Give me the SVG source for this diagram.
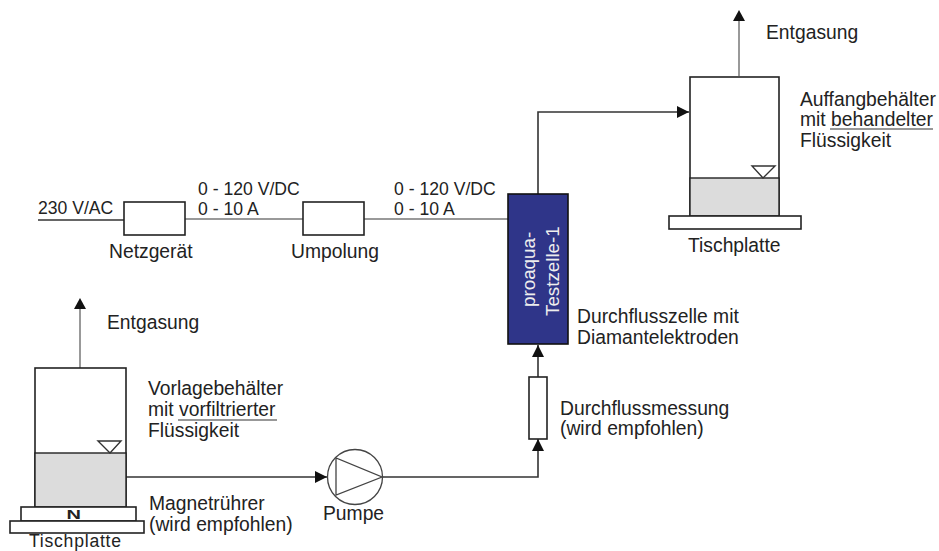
<svg xmlns="http://www.w3.org/2000/svg" width="939" height="551" viewBox="0 0 939 551">
<style>
text{font-family:"Liberation Sans",Arial,sans-serif;font-size:19.3px;fill:#222}
text.v{font-size:17.6px}
text.r{font-size:18.8px;fill:#eee}
.b{fill:#fff;stroke:#222;stroke-width:1.6}
.l{fill:#dcdcdc;stroke:#222;stroke-width:1.4}
.w{fill:none;stroke:#333;stroke-width:1.6}
.g{fill:none;stroke:#999;stroke-width:2}
.h{fill:#fff;stroke:#333;stroke-width:1.4}
.u{stroke:#333;stroke-width:1.2}
</style>
<defs>
<marker id="a" markerUnits="userSpaceOnUse" markerWidth="14" markerHeight="14" refX="12" refY="6" orient="auto"><path d="M0 0L12 6L0 12z" fill="#111"/></marker>
</defs>
<rect width="939" height="551" fill="#fff"/>
<g id="connectors">
<path class="g" d="M739 76V14"/>
<path d="M733 21L739 10L745 21z" fill="#111"/>
<path class="g" d="M80 368V302"/>
<path d="M74 309L80 298L86 309z" fill="#111"/>
<path class="w" d="M538 194V112H689" marker-end="url(#a)"/>
<path class="w" d="M38 220H124"/>
<path class="g" d="M185 219H303"/>
<path class="g" d="M364 219H508"/>
<path class="w" d="M126 477H327" marker-end="url(#a)"/>
<path class="w" d="M383 477H538V439" marker-end="url(#a)"/>
<path class="w" d="M538 377V345" marker-end="url(#a)"/>
</g>
<g id="auffangbehaelter">
<rect class="b" x="690" y="77" width="89" height="139"/>
<rect class="l" x="690" y="178" width="89" height="38"/>
<path class="h" d="M752 166H775L763 178z"/>
<rect class="b" x="669" y="216" width="132" height="13"/>
<text x="800" y="106">Auffangbehälter</text>
<text x="800" y="126">mit behandelter</text>
<path class="u" d="M830 129H933"/>
<text x="800" y="147">Flüssigkeit</text>
<text x="688" y="252">Tischplatte</text>
<text x="766" y="39">Entgasung</text>
</g>
<g id="netzgeraet">
<rect class="b" x="124" y="202" width="61" height="33"/>
<text x="109" y="258">Netzgerät</text>
<text class="v" x="38" y="214">230 V/AC</text>
<text class="v" x="198" y="194.5">0 - 120 V/DC</text>
<text class="v" x="198" y="214.5">0 - 10 A</text>
</g>
<g id="umpolung">
<rect class="b" x="303" y="202" width="61" height="33"/>
<text x="291" y="258">Umpolung</text>
<text class="v" x="394" y="194.5">0 - 120 V/DC</text>
<text class="v" x="394" y="214.5">0 - 10 A</text>
</g>
<g id="testzelle">
<rect x="508" y="194" width="60" height="150" fill="#2f3589" stroke="#111" stroke-width="1.6"/>
<text class="r" transform="translate(535 307) rotate(-90)">proaqua-</text>
<text class="r" transform="translate(559 316) rotate(-90)">Testzelle-1</text>
<text x="577" y="323">Durchflusszelle mit</text>
<text x="577" y="344">Diamantelektroden</text>
</g>
<g id="durchflussmessung">
<rect class="b" x="529" y="377" width="18" height="62"/>
<text x="560" y="415">Durchflussmessung</text>
<text x="560" y="435">(wird empfohlen)</text>
</g>
<g id="pumpe">
<circle cx="355" cy="477" r="27.5" fill="#fff" stroke="#444" stroke-width="1.3"/>
<path d="M336 458V495L382 477z" fill="#fff" stroke="#444" stroke-width="1.3"/>
<text x="323" y="520">Pumpe</text>
</g>
<g id="vorlagebehaelter">
<rect class="b" x="35" y="368" width="91" height="139"/>
<rect class="l" x="35" y="453" width="91" height="54"/>
<path class="h" d="M98 441H121L110 453z"/>
<rect class="b" x="21" y="507" width="115" height="14"/>
<rect class="b" x="10" y="521" width="134" height="12"/>
<text transform="translate(66.5 519) scale(1.6 1)" style="font-size:12.5px;font-weight:bold">N</text>
<text x="148" y="395">Vorlagebehälter</text>
<text x="148" y="416">mit vorfiltrierter</text>
<path class="u" d="M178 420H277"/>
<text x="148" y="437">Flüssigkeit</text>
<text x="149" y="510">Magnetrührer</text>
<text x="149" y="531">(wird empfohlen)</text>
<text x="29" y="547" textLength="92" lengthAdjust="spacing" style="font-size:17.6px">Tischplatte</text>
<text x="107" y="329">Entgasung</text>
</g>
</svg>
